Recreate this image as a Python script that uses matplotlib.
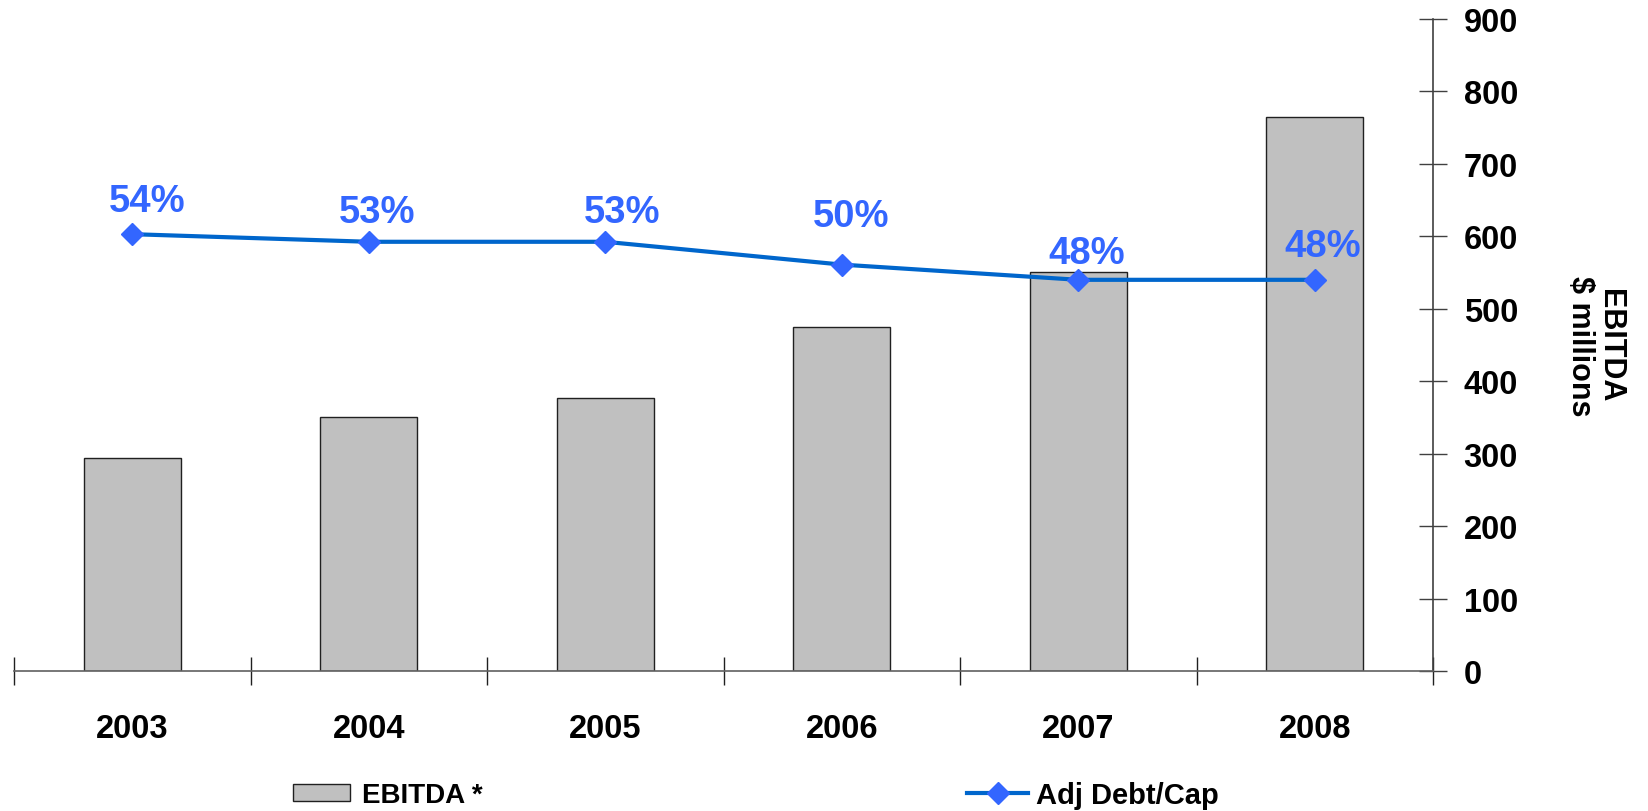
import matplotlib
matplotlib.use('Agg')
import matplotlib.pyplot as plt
from matplotlib.lines import Line2D
from matplotlib.patches import Patch
import numpy as np

plt.rcParams['font.family'] = ['Liberation Sans', 'DejaVu Sans']
plt.rcParams['font.weight'] = 'bold'

# EBITDA ($ millions) and adjusted debt-to-capital ratio (%)
years = ['2003', '2004', '2005', '2006', '2007', '2008']
ebitda = [294, 350, 377, 475, 551, 765]
debt_cap = [54, 53, 53, 50, 48, 48]
debt_labels = ['54%', '53%', '53%', '50%', '48%', '48%']

bar_col = '#C0C0C0'
line_col = '#0066CC'
mark_col = '#3366FF'

fig = plt.figure(figsize=(16.48, 8.12), dpi=100)
ax = fig.add_axes([14/1648, 1-672/812, (1433-14)/1648, (672-20)/812])
x = np.arange(len(years))

ax.bar(x, ebitda, width=0.41, color=bar_col, edgecolor='#202020', linewidth=1.0, zorder=2)
ax.set_xlim(-0.5, 5.5)
ax.set_ylim(0, 900)

# debt/cap on a hidden second scale
ax2 = ax.twinx()
ax2.set_ylim(-3.43, 82.29)
ax2.axis('off')
ax2.plot(x, debt_cap, color=line_col, lw=3, marker='D', markersize=11,
         markerfacecolor=mark_col, markeredgecolor=mark_col, zorder=3)
dx = [11, 6, 12, 7, 6, 6]
dy = [17, 14, 14, 28, 12, 17]
for xi, v, lab, ox, oy in zip(x, debt_cap, debt_labels, dx, dy):
    ax2.annotate(lab, (xi, v), xytext=(ox, oy), textcoords='offset points',
                 ha='center', va='baseline', color=mark_col, fontsize=27.5, fontweight='bold')

ax.set_yticks(range(0, 901, 100))
ax.yaxis.tick_right()
ax.yaxis.set_label_position('right')
ax.set_xticks(np.arange(-0.5, 6, 1))
ax.set_xticklabels([])
ax.set_xticks(x, minor=True)
ax.set_xticklabels(years, minor=True)
ax.tick_params(axis='x', which='major', direction='inout', length=20, width=1, color='#202020')
ax.tick_params(axis='x', which='minor', length=0, pad=30, labelsize=23.5)
ax.tick_params(axis='y', which='both', left=False, labelleft=False, right=True, labelright=True,
               direction='inout', length=20, width=1, color='#404040', pad=12, labelsize=23.5)
for s in ['left', 'top']:
    ax.spines[s].set_visible(False)
ax.spines['bottom'].set_color('#606060')
ax.spines['right'].set_color('#404040')
ax.spines['bottom'].set_linewidth(1.2)
ax.spines['right'].set_linewidth(1.2)

ax.set_ylabel('EBITDA\n$ millions', rotation=270, fontsize=22, fontweight='bold',
              labelpad=34, linespacing=1.0, va='bottom')

h1 = Patch(facecolor=bar_col, edgecolor='#202020', linewidth=1.0)
h2 = Line2D([], [], color=line_col, lw=3, marker='D', markersize=11,
            markerfacecolor=mark_col, markeredgecolor=mark_col)
fig.legend([h1], ['EBITDA *'], loc='center left', bbox_to_anchor=(293/1648, 1-796/812),
           frameon=False, fontsize=20, handlelength=2.05, handleheight=0.58,
           borderpad=0, borderaxespad=0, handletextpad=0.43)
fig.legend([h2], ['Adj Debt/Cap'], loc='center left', bbox_to_anchor=(967/1648, 1-796/812),
           frameon=False, fontsize=21, handlelength=2.1,
           borderpad=0, borderaxespad=0, handletextpad=0.28)

fig.savefig('out.png', dpi=100)
